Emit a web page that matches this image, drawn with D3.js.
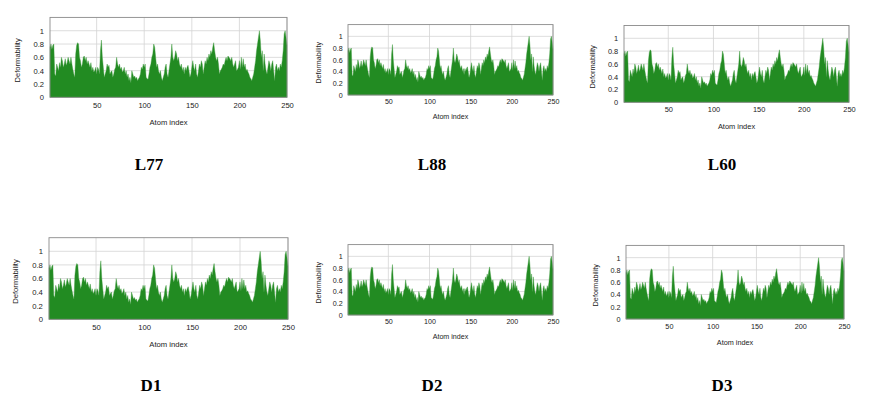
<!DOCTYPE html>
<html>
<head>
<meta charset="utf-8">
<style>
 body{
     margin : 0px;
     background: #fff;
 }
 svg{
     font-family: "Liberation Sans", Arial, sans-serif;
     background: #fff;
 }
 .title{
     font-family: "Liberation Serif", "Times New Roman", serif;
     font-weight: bold;
     font-size: 17px;
 }
</style>
</head>
<body>
<svg width="876" height="395"></svg>
<script src="https://cdn.jsdelivr.net/npm/d3@7/dist/d3.min.js"></script>
<script>
// deformability per atom (1..250), same profile in all six runs
var deformability = [
 0.75,0.80,0.72,0.78,0.80,0.35,0.32,0.50,0.45,0.40,
 0.52,0.45,0.60,0.55,0.45,0.50,0.58,0.48,0.52,0.60,
 0.55,0.50,0.60,0.50,0.42,0.35,0.30,0.65,0.78,0.82,
 0.80,0.60,0.55,0.45,0.50,0.60,0.62,0.55,0.60,0.50,
 0.55,0.50,0.45,0.52,0.40,0.45,0.38,0.40,0.45,0.35,
 0.45,0.42,0.35,0.70,0.86,0.60,0.45,0.30,0.35,0.40,
 0.50,0.45,0.48,0.35,0.38,0.40,0.30,0.35,0.42,0.45,
 0.60,0.50,0.45,0.50,0.42,0.45,0.38,0.40,0.45,0.35,
 0.40,0.30,0.35,0.25,0.30,0.22,0.40,0.35,0.30,0.32,
 0.28,0.30,0.25,0.28,0.30,0.35,0.45,0.42,0.50,0.45,
 0.50,0.30,0.28,0.27,0.35,0.45,0.50,0.60,0.65,0.80,
 0.75,0.60,0.45,0.50,0.40,0.35,0.40,0.30,0.25,0.30,
 0.35,0.45,0.50,0.35,0.30,0.40,0.50,0.60,0.80,0.60,
 0.55,0.60,0.70,0.65,0.55,0.60,0.50,0.45,0.50,0.40,
 0.45,0.35,0.45,0.40,0.45,0.48,0.40,0.30,0.35,0.45,
 0.55,0.45,0.40,0.50,0.35,0.30,0.40,0.50,0.45,0.55,
 0.50,0.35,0.45,0.55,0.50,0.60,0.55,0.65,0.60,0.70,
 0.65,0.75,0.82,0.70,0.60,0.55,0.60,0.50,0.35,0.40,
 0.42,0.45,0.50,0.48,0.55,0.60,0.55,0.62,0.60,0.58,
 0.55,0.60,0.50,0.45,0.50,0.55,0.40,0.42,0.45,0.55,
 0.42,0.60,0.45,0.58,0.45,0.50,0.40,0.42,0.38,0.35,
 0.30,0.28,0.25,0.30,0.35,0.45,0.55,0.70,0.80,0.90,
 1.00,0.85,0.60,0.70,0.40,0.65,0.50,0.40,0.35,0.45,
 0.55,0.50,0.40,0.50,0.55,0.40,0.25,0.45,0.50,0.40,
 0.45,0.40,0.50,0.45,0.55,0.70,0.95,1.00,0.90,0.78
];
var panelNames = ["L77", "L88", "L60", "D1", "D2", "D3"];
var xTicks = [50, 100, 150, 200, 250];
var yTicks = [0, 0.2, 0.4, 0.6, 0.8, 1];

// plot boxes in the picture: left, right, y of 1.2, y of 0
var boxes = [
  {l: 50,  r: 287, t: 17.4,  b: 97.3,  tx: 149, ty: 170},
  {l: 348, r: 553, t: 24.6,  b: 95,    tx: 432, ty: 170},
  {l: 624, r: 849, t: 25.5,  b: 102.3, tx: 722, ty: 170},
  {l: 49,  r: 288, t: 237.7, b: 319.3, tx: 151, ty: 391},
  {l: 348, r: 553, t: 244.6, b: 315,   tx: 432, ty: 391},
  {l: 626, r: 844, t: 245.4, b: 319,   tx: 722, ty: 391}
];

var svg = d3.select("svg");
var atoms = d3.range(1, deformability.length + 1);

boxes.forEach(function(bx, i){
    var k = (bx.b - bx.t) / 80;
    var x = d3.scaleLinear().domain([1, 250]).range([bx.l, bx.r]);
    var y = d3.scaleLinear().domain([0, 1.2]).range([bx.b, bx.t]);
    var g = svg.append("g");

    g.selectAll(".vg").data(xTicks).enter().append("line")
        .attr("x1", d => x(d)).attr("x2", d => x(d))
        .attr("y1", bx.t).attr("y2", bx.b)
        .style("stroke", "#d4d4d4").style("stroke-width", 0.8);
    g.selectAll(".hg").data(yTicks).enter().append("line")
        .attr("x1", bx.l).attr("x2", bx.r)
        .attr("y1", d => y(d)).attr("y2", d => y(d))
        .style("stroke", "#d4d4d4").style("stroke-width", 0.8);

    var area = d3.area()
        .x(d => x(d))
        .y0(y(0))
        .y1(d => y(deformability[d - 1]));
    g.append("path")
        .datum(atoms)
        .attr("d", area)
        .style("fill", "#228b22")
        .style("stroke", "#3c9a3c")
        .style("stroke-width", 0.4);

    g.append("rect")
        .attr("x", bx.l).attr("y", bx.t)
        .attr("width", bx.r - bx.l).attr("height", bx.b - bx.t)
        .style("fill", "none").style("stroke", "#8a8a8a").style("stroke-width", 0.9);

    var fs = 7.6 * Math.sqrt(k);
    var yAxis = d3.axisLeft(y).tickValues(yTicks).tickSize(0).tickPadding(6 * k)
        .tickFormat(d3.format("~g"));
    var xAxis = d3.axisBottom(x).tickValues(xTicks).tickSize(0).tickPadding(5 * k);
    var yAxisG = g.append("g").attr("transform", "translate(" + bx.l + ",0)").call(yAxis);
    var xAxisG = g.append("g").attr("transform", "translate(0," + bx.b + ")").call(xAxis);
    [yAxisG, xAxisG].forEach(function(ax){
        ax.select(".domain").remove();
        ax.selectAll("text").style("font-size", fs + "px").style("fill", "#222")
            .style("font-family", "'Liberation Sans', Arial, sans-serif");
    });

    g.append("text")
        .attr("transform", "translate(" + (bx.l - 33 * k) + "," + ((bx.t + bx.b) / 2 + 3) + ") rotate(-90)")
        .attr("text-anchor", "middle")
        .attr("dy", "0.35em")
        .style("font-size", fs + "px").style("fill", "#222")
        .text("Deformability");
    g.append("text")
        .attr("x", (bx.l + bx.r) / 2)
        .attr("y", bx.b + 25 * k)
        .attr("text-anchor", "middle")
        .attr("dy", "0.35em")
        .style("font-size", fs + "px").style("fill", "#222")
        .text("Atom index");

    svg.append("text")
        .attr("class", "title")
        .attr("x", bx.tx).attr("y", bx.ty)
        .attr("text-anchor", "middle")
        .text(panelNames[i]);
});
</script>
</body>
</html>
